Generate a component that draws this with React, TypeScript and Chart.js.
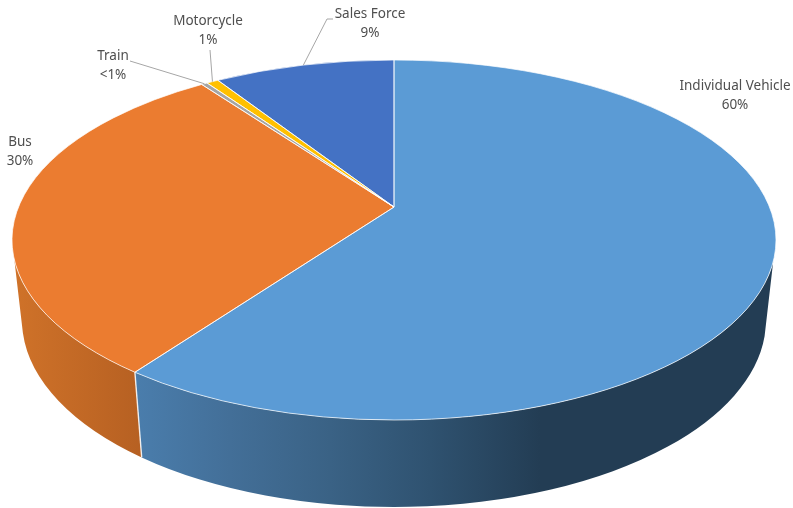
import React, { useEffect, useRef } from "react";
import { Chart, registerables } from "chart.js";

Chart.register(...registerables);

const categories = ["Individual Vehicle", "Bus", "Train", "Motorcycle", "Sales Force"];
const shares = [60, 30, 0.3, 0.6, 9.1];
const shareLabels = ["60%", "30%", "<1%", "1%", "9%"];
const colors = ["#5B9BD5", "#EB7C30", "#A5A5A5", "#FFC000", "#4472C4"];

// Label anchors (centre x, first row y) and the knee of each leader line.
const labelCentres = [[735, 86], [20, 142], [113, 56], [208, 21], [370, 14]];
const leaderRoutes: (number[][] | null)[] = [
  null,
  null,
  [[130, 61]],
  [[210, 50]],
  [[327, 19], [333, 19]],
];

// Ellipses of the tilted disc: top face and bottom face.
const TOP = { cx: 394, cy: 240, rx: 382, ry: 180 };
const BOTTOM = { cx: 394, cy: 320, rx: 372, ry: 187 };
// How far the pie's centre sits up the ellipse under perspective.
const TILT = -0.183;
const TOP_FRONT = [(7 * Math.PI) / 180, (173.6 * Math.PI) / 180];
const BOTTOM_FRONT = [(5 * Math.PI) / 180, (176 * Math.PI) / 180];

// Shaded side wall of each slice, as [x, colour] stops along the page.
const wallStops: Record<number, [number, string][]> = {
  0: [[137, "#4A7DAC"], [230, "#436F98"], [330, "#3A6285"], [430, "#2F5270"], [540, "#233D54"], [775, "#233D54"]],
  1: [[15, "#CF7229"], [143, "#B66022"]],
  2: [[15, "#8A8A8A"], [775, "#5A5A5A"]],
  3: [[15, "#D9A300"], [775, "#8A6C00"]],
  4: [[15, "#3A62A8"], [775, "#26406E"]],
};

// Perspective map from a pie angle to the parameter on the ellipse.
function project(theta: number) {
  const u = Math.cos(theta);
  const v = Math.sin(theta);
  const d = 1 + TILT * v;
  return Math.atan2((v + TILT) / d, (u * Math.sqrt(1 - TILT * TILT)) / d);
}

function unwrapped(start: number, end: number) {
  const a = project(start);
  let b = project(end);
  while (b <= a) b += Math.PI * 2;
  return [a, b];
}

function onEllipse(e: typeof TOP, phi: number) {
  return [e.cx + e.rx * Math.cos(phi), e.cy + e.ry * Math.sin(phi)];
}

function clampToFront(a: number, b: number, front: number[]) {
  for (const shift of [0, Math.PI * 2, -Math.PI * 2]) {
    const lo = Math.max(a, front[0] + shift);
    const hi = Math.min(b, front[1] + shift);
    if (hi > lo) return [lo, hi];
  }
  return null;
}

const pie3d = {
  id: "pie3d",
  beforeDatasetsDraw(chart: Chart) {
    const ctx = chart.ctx;
    const arcs = chart.getDatasetMeta(0).data as any[];
    const spans = arcs.map((arc) => unwrapped(arc.startAngle, arc.endAngle));
    const seam = "rgba(255,255,255,0.7)";

    // Side walls first, so that the top face sits over them.
    spans.forEach(([a, b], i) => {
      const t = clampToFront(a, b, TOP_FRONT);
      const s = clampToFront(a, b, BOTTOM_FRONT);
      if (!t || !s) return;
      const stops = wallStops[i];
      const x0 = stops[0][0];
      const x1 = stops[stops.length - 1][0];
      const g = ctx.createLinearGradient(x0, 0, x1, 0);
      stops.forEach(([x, c]) => g.addColorStop((x - x0) / (x1 - x0), c));
      ctx.beginPath();
      ctx.ellipse(TOP.cx, TOP.cy, TOP.rx, TOP.ry, 0, t[0], t[1]);
      ctx.ellipse(BOTTOM.cx, BOTTOM.cy, BOTTOM.rx, BOTTOM.ry, 0, s[1], s[0], true);
      ctx.closePath();
      ctx.fillStyle = g;
      ctx.fill();
    });

    // Vertical seams between neighbouring walls.
    spans.forEach(([, b]) => {
      const t = clampToFront(b - 1e-4, b + 1e-4, TOP_FRONT);
      if (!t) return;
      const p = onEllipse(TOP, b);
      const q = onEllipse(BOTTOM, b);
      ctx.beginPath();
      ctx.moveTo(p[0], p[1]);
      ctx.lineTo(q[0], q[1]);
      ctx.strokeStyle = "rgba(255,255,255,0.85)";
      ctx.lineWidth = 1.4;
      ctx.stroke();
    });

    // Top face: each wedge runs from the shifted centre out to its rim arc.
    const apex = [TOP.cx, TOP.cy + TOP.ry * TILT];
    spans.forEach(([a, b], i) => {
      ctx.beginPath();
      ctx.moveTo(apex[0], apex[1]);
      ctx.ellipse(TOP.cx, TOP.cy, TOP.rx, TOP.ry, 0, a, b);
      ctx.closePath();
      ctx.fillStyle = colors[i];
      ctx.fill();
    });
    spans.forEach(([a, b]) => {
      ctx.beginPath();
      ctx.moveTo(apex[0], apex[1]);
      ctx.ellipse(TOP.cx, TOP.cy, TOP.rx, TOP.ry, 0, a, b);
      ctx.closePath();
      ctx.strokeStyle = seam;
      ctx.lineWidth = 1;
      ctx.stroke();
    });

    // Leader lines and labels.
    ctx.strokeStyle = "#A6A6A6";
    ctx.lineWidth = 1;
    spans.forEach(([a, b], i) => {
      const route = leaderRoutes[i];
      if (!route) return;
      const start = onEllipse(TOP, (a + b) / 2);
      ctx.beginPath();
      ctx.moveTo(start[0], start[1]);
      route.forEach(([x, y]) => ctx.lineTo(x, y));
      ctx.stroke();
    });

    ctx.fillStyle = "#4F4F4F";
    ctx.font = '13.5px "Noto Sans"';
    ctx.textAlign = "center";
    ctx.textBaseline = "middle";
    categories.forEach((name, i) => {
      const [x, y] = labelCentres[i];
      ctx.fillText(name, x, y);
      ctx.fillText(shareLabels[i], x, y + 19);
    });
    return false;
  },
};

export default function App() {
  const ref = useRef<HTMLCanvasElement>(null);
  useEffect(() => {
    const chart = new Chart(ref.current as HTMLCanvasElement, {
      type: "pie",
      data: {
        labels: categories,
        datasets: [{ data: shares, backgroundColor: colors }],
      },
      options: {
        animation: false,
        responsive: false,
        plugins: { legend: { display: false }, tooltip: { enabled: false } },
      },
      plugins: [pie3d],
    });
    return () => chart.destroy();
  }, []);
  return (
    <div style={{ position: "absolute", left: 0, top: 0, width: 793, height: 508, background: "#fff" }}>
      <canvas ref={ref} width={793} height={508} style={{ display: "block" }} />
    </div>
  );
}
